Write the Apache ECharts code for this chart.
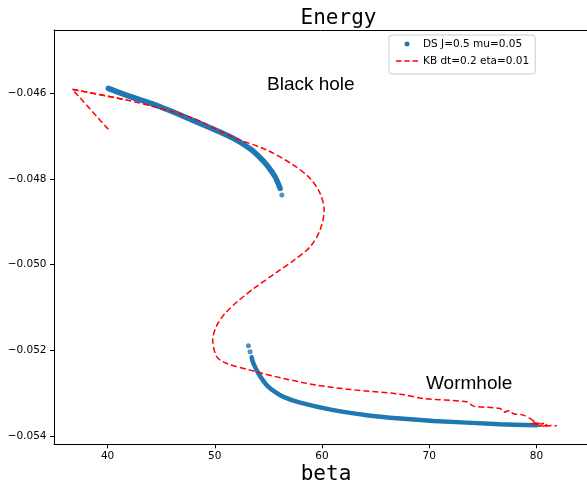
<!DOCTYPE html>
<html>
<head>
<meta charset="utf-8">
<script src="https://cdn.jsdelivr.net/npm/echarts@6/dist/echarts.min.js"></script>
<style>
html,body{margin:0;padding:0;background:#fff;}
#chart{width:587px;height:485px;}
</style>
</head>
<body>
<div id="chart"></div>
<script>
// ---- data ----
const xTicks = [40, 50, 60, 70, 80];
const yTicks = [-0.054, -0.052, -0.050, -0.048, -0.046];

// DS J=0.5 mu=0.05 : upper (black hole) branch
const dsUpper = [
  [40.07, -0.045890], [41.79, -0.046054], [44.90, -0.046320], [48.63, -0.046711],
  [51.73, -0.047057], [53.29, -0.047300], [54.07, -0.047470], [54.85, -0.047679],
  [55.62, -0.047952], [56.09, -0.048223]
];
// DS lower (wormhole) branch
const dsLower = [
  [53.43, -0.052158], [53.60, -0.052305], [54.07, -0.052538], [54.85, -0.052811],
  [55.62, -0.052967], [56.40, -0.053083], [57.96, -0.053219], [61.06, -0.053394],
  [64.18, -0.053511], [67.29, -0.053588], [70.39, -0.053644], [76.61, -0.053720],
  [80.04, -0.053745]
];
// DS isolated points at branch ends
const dsDots = [[56.25, -0.048379], [53.13, -0.051894], [53.29, -0.052034]];

// KB dt=0.2 eta=0.01
const kbPath = [
  [40.07, -0.046847], [36.72, -0.045914], [41.79, -0.046163], [44.90, -0.046357],
  [48.00, -0.046590], [51.73, -0.047033], [54.85, -0.047329], [57.33, -0.047679],
  [58.89, -0.047990], [59.82, -0.048339], [60.20, -0.048729], [59.82, -0.049195],
  [58.89, -0.049585], [57.40, -0.049895], [55.63, -0.050205], [53.85, -0.050518],
  [52.27, -0.050828], [50.96, -0.051138], [50.12, -0.051451], [49.81, -0.051761],
  [50.19, -0.052151], [51.12, -0.052305], [53.29, -0.052461], [56.40, -0.052654],
  [59.51, -0.052811], [62.62, -0.052911], [67.29, -0.053021], [69.46, -0.053121],
  [73.51, -0.053200], [74.12, -0.053300], [76.61, -0.053354], [77.00, -0.053440],
  [77.50, -0.053400], [77.80, -0.053470], [78.79, -0.053510], [79.41, -0.053587],
  [79.80, -0.053660], [79.50, -0.053710], [80.30, -0.053680], [79.90, -0.053740],
  [80.70, -0.053700], [80.20, -0.053770], [81.00, -0.053730], [80.60, -0.053780],
  [81.40, -0.053750], [81.90, -0.053760]
];

const dsName = 'DS J=0.5 mu=0.05';
const kbName = 'KB dt=0.2 eta=0.01';
const titleText = 'Energy';
const xLabelText = 'beta';
const annotations = ['Black hole', 'Wormhole'];

const blue = '#1f77b4';
const red = '#ff0000';
const chart = echarts.init(document.getElementById('chart'), null, {renderer: 'canvas'});
const tickFont = {fontFamily: 'DejaVu Sans', fontSize: 10.5, color: '#000'};
const xMin = 35, xMax = 84.72, yMin = -0.05419, yMax = -0.04453;

// segments of the KB path: sharp head, smooth middle, jagged tail
const kbHead = kbPath.slice(0, 3);
const kbMid = kbPath.slice(1, 36);
const kbTail = kbPath.slice(35);

// dashed-line legend icon (22x5 box)
const dashIcon = 'path://M0,0L0.01,0L0,0.01Z M22,5L21.99,5L22,4.99Z M0,1.75h5.5v1.5h-5.5z M8.25,1.75h5.5v1.5h-5.5z M16.5,1.75h5.5v1.5h-5.5z';

chart.setOption({
  animation: false,
  grid: {left: 54, top: 30, right: 0, bottom: 40.7, show: false},
  xAxis: [{
    type: 'value', min: xMin, max: xMax,
    axisLine: {show: true, onZero: false, lineStyle: {color: '#000', width: 1}},
    axisTick: {show: true, length: 4, lineStyle: {color: '#000'}, customValues: xTicks},
    axisLabel: Object.assign({margin: 6, customValues: xTicks}, tickFont),
    splitLine: {show: false}
  }, {
    type: 'value', min: xMin, max: xMax, position: 'top',
    axisLine: {show: true, onZero: false, lineStyle: {color: '#000', width: 1}},
    axisTick: {show: false}, axisLabel: {show: false}, splitLine: {show: false}
  }],
  yAxis: {
    type: 'value', min: yMin, max: yMax,
    axisLine: {show: true, onZero: false, lineStyle: {color: '#000', width: 1}},
    axisTick: {show: true, length: 4, lineStyle: {color: '#000'}, customValues: yTicks},
    axisLabel: Object.assign({margin: 7.5, customValues: yTicks,
      formatter: v => (v < 0 ? '\u2212' : '') + Math.abs(v).toFixed(3)}, tickFont),
    splitLine: {show: false}
  },
  legend: {
    orient: 'vertical', left: 389, top: 35,
    padding: [2, 6, 6, 7],
    itemWidth: 22, itemHeight: 5, itemGap: 3, itemTextGap: 8,
    borderColor: '#cccccc', borderWidth: 1, borderRadius: 3,
    backgroundColor: 'rgba(255,255,255,0.8)',
    textStyle: {fontFamily: 'DejaVu Sans', fontSize: 10.5, color: '#000', lineHeight: 14},
    selectedMode: false,
    data: [{name: dsName, icon: 'circle', itemStyle: {color: blue}},
           {name: kbName, icon: dashIcon, itemStyle: {color: red, borderWidth: 0}}]
  },
  series: [
    {name: dsName, type: 'line', data: dsUpper, symbol: 'none', smooth: 0.3,
     lineStyle: {color: blue, width: 5.5, cap: 'round'}, itemStyle: {color: blue}},
    {name: dsName, type: 'line', data: dsLower, symbol: 'none', smooth: 0.3,
     lineStyle: {color: blue, width: 4.5, cap: 'round'}, itemStyle: {color: blue}},
    {name: dsName, type: 'scatter', data: dsDots, symbolSize: 5, itemStyle: {color: blue}},
    {name: kbName, type: 'line', data: kbHead, symbol: 'none', smooth: false,
     lineStyle: {color: red, width: 1.5, type: [6, 3]}, itemStyle: {color: red}},
    {name: kbName, type: 'line', data: kbMid, symbol: 'none', smooth: 0.3,
     lineStyle: {color: red, width: 1.5, type: [6, 3]}, itemStyle: {color: red}},
    {name: kbName, type: 'line', data: kbTail, symbol: 'none', smooth: false,
     lineStyle: {color: red, width: 1.5, type: [6, 3]}, itemStyle: {color: red}}
  ],
  graphic: [
    {type: 'text', x: 338.5, y: 18.5, style: {text: titleText, font: '21px "DejaVu Sans Mono"', fill: '#000', textAlign: 'center', textVerticalAlign: 'middle'}},
    {type: 'text', x: 326, y: 474.5, style: {text: xLabelText, font: '21px "DejaVu Sans Mono"', fill: '#000', textAlign: 'center', textVerticalAlign: 'middle'}},
    {type: 'text', x: 267, y: 84.5, style: {text: annotations[0], font: '19px "Liberation Sans"', fill: '#000', textAlign: 'left', textVerticalAlign: 'middle'}},
    {type: 'text', x: 426, y: 384, style: {text: annotations[1], font: '19px "Liberation Sans"', fill: '#000', textAlign: 'left', textVerticalAlign: 'middle'}}
  ]
});
</script>
</body>
</html>
